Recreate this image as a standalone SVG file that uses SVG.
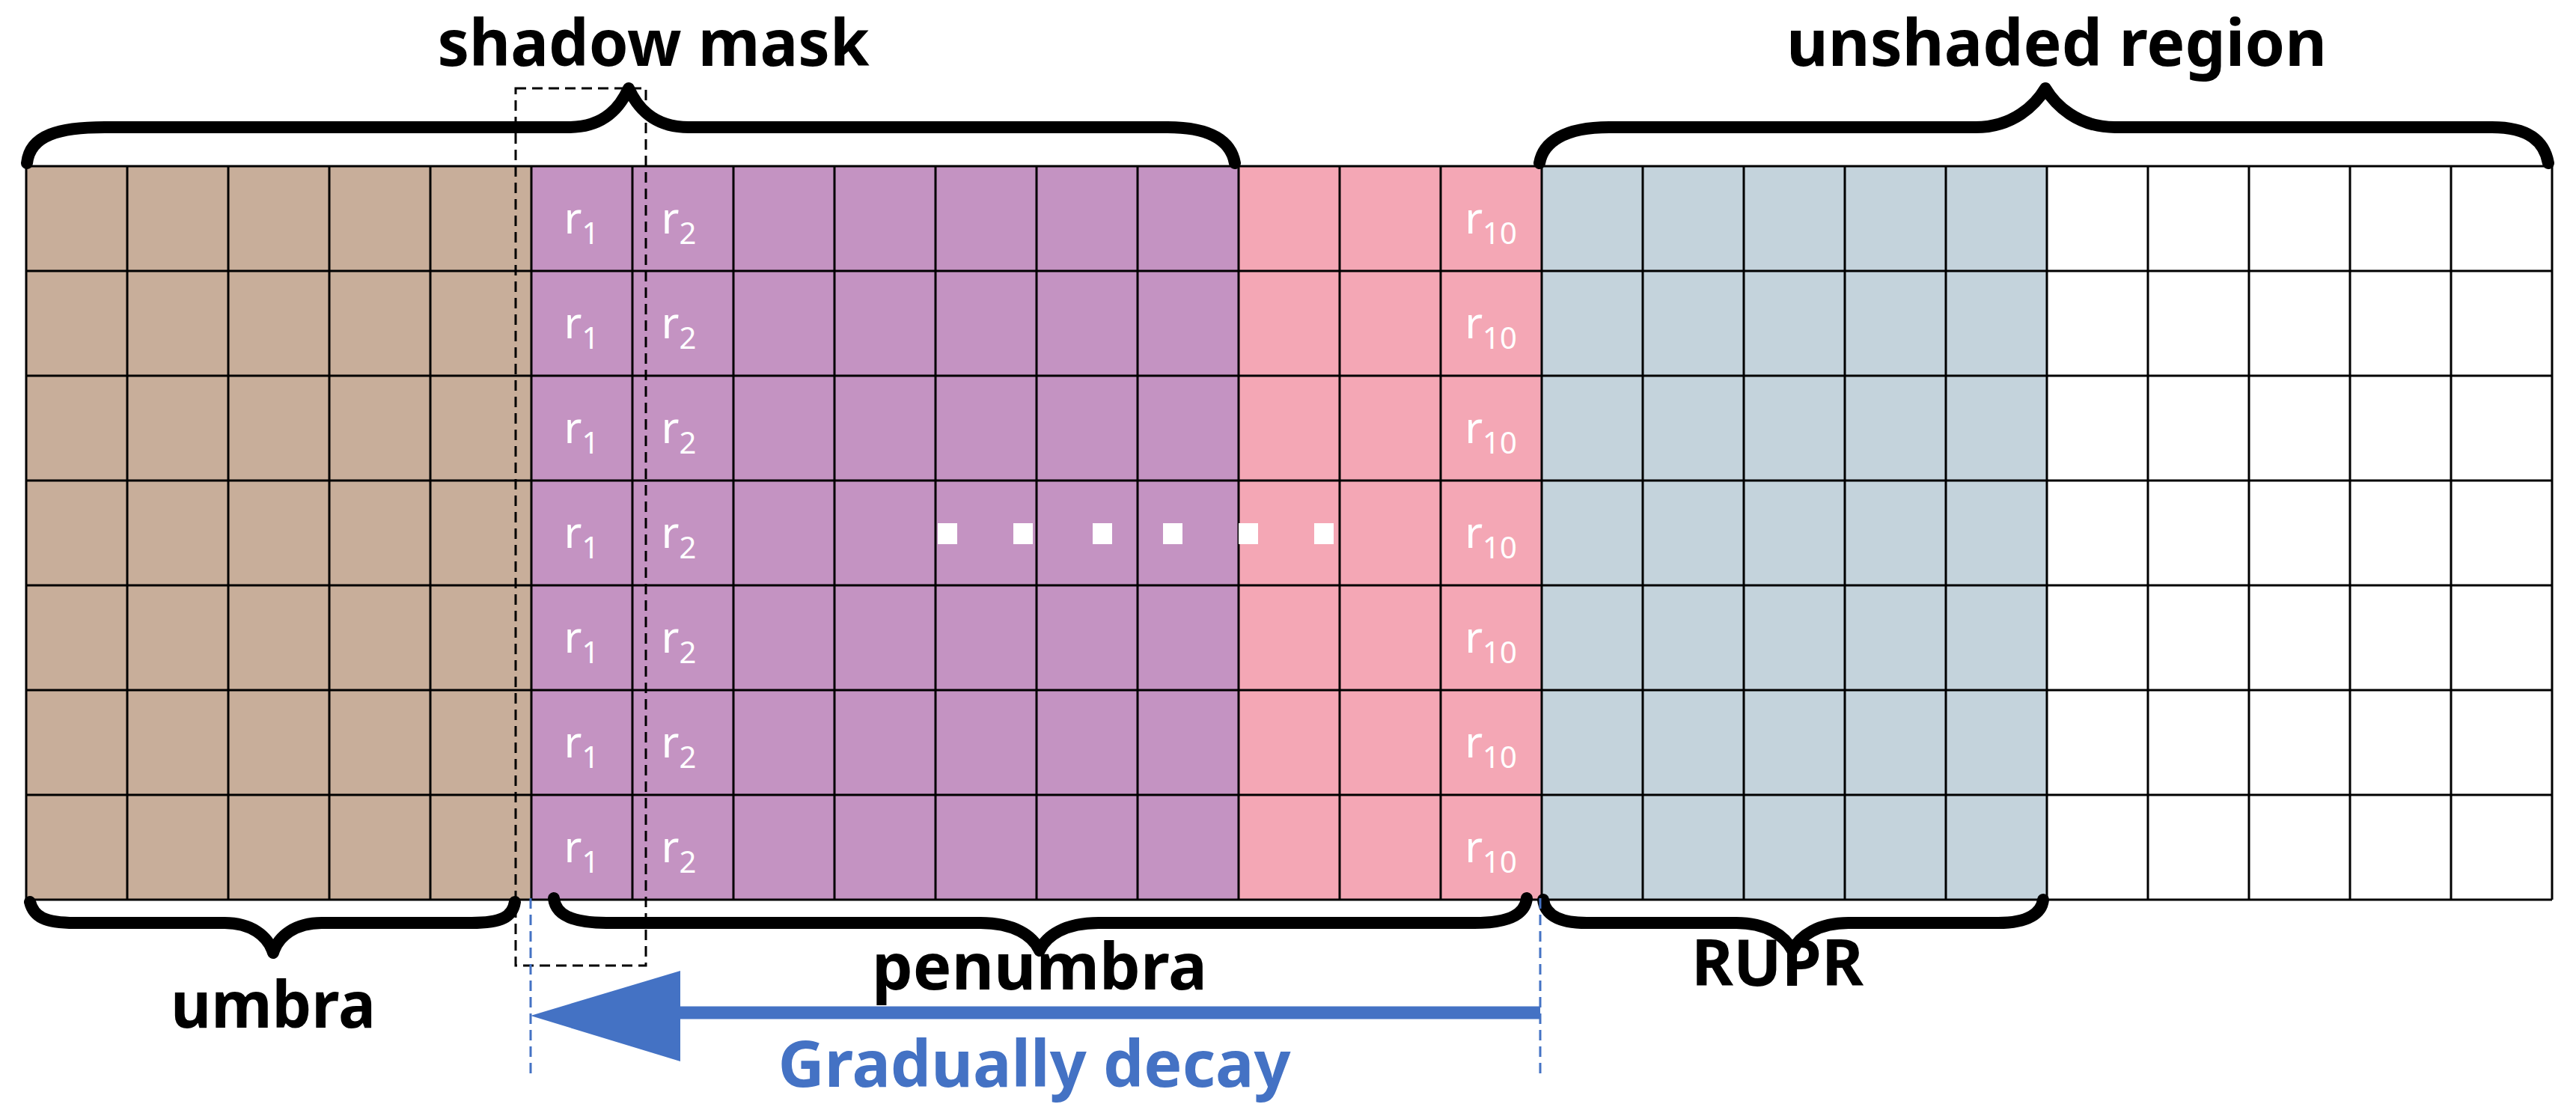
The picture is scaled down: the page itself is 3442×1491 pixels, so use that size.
<svg xmlns="http://www.w3.org/2000/svg" width="3442" height="1491" viewBox="0 0 3442 1491">
<style>
.lbl{font-family:"Noto Sans","Open Sans",sans-serif;font-weight:bold;font-size:86px;fill:#000;text-anchor:middle}
.r{font-family:"Noto Sans","Open Sans",sans-serif;font-size:58px;fill:#fff;text-anchor:middle}
.sub{font-size:40px}
.grid{stroke:#000;stroke-width:3;fill:none}
.brace{stroke:#000;stroke-width:16;fill:none;stroke-linecap:round;stroke-linejoin:round}
</style>
<rect width="3442" height="1491" fill="#fff"/>
<g id="regions">
<rect x="35" y="222" width="675" height="980" fill="#C8AE9A"/>
<rect x="710" y="222" width="945" height="980" fill="#C493C2"/>
<rect x="1655" y="222" width="405" height="980" fill="#F4A7B5"/>
<rect x="2060" y="222" width="675" height="980" fill="#C4D3DC"/>
</g>
<g id="grid" class="grid">
<path d="M35 222H3410M35 362H3410M35 502H3410M35 642H3410M35 782H3410M35 922H3410M35 1062H3410M35 1202H3410"/>
<path d="M35 222V1202M170 222V1202M305 222V1202M440 222V1202M575 222V1202M710 222V1202M845 222V1202M980 222V1202M1115 222V1202M1250 222V1202M1385 222V1202M1520 222V1202M1655 222V1202M1790 222V1202M1925 222V1202M2060 222V1202M2195 222V1202M2330 222V1202M2465 222V1202M2600 222V1202M2735 222V1202M2870 222V1202M3005 222V1202M3140 222V1202M3275 222V1202M3410 222V1202"/>
</g>
<g id="cell-labels">
<text class="r" x="777" y="312">r<tspan class="sub" dy="14">1</tspan></text>
<text class="r" x="777" y="452">r<tspan class="sub" dy="14">1</tspan></text>
<text class="r" x="777" y="592">r<tspan class="sub" dy="14">1</tspan></text>
<text class="r" x="777" y="732">r<tspan class="sub" dy="14">1</tspan></text>
<text class="r" x="777" y="872">r<tspan class="sub" dy="14">1</tspan></text>
<text class="r" x="777" y="1012">r<tspan class="sub" dy="14">1</tspan></text>
<text class="r" x="777" y="1152">r<tspan class="sub" dy="14">1</tspan></text>
<text class="r" x="907" y="312">r<tspan class="sub" dy="14">2</tspan></text>
<text class="r" x="907" y="452">r<tspan class="sub" dy="14">2</tspan></text>
<text class="r" x="907" y="592">r<tspan class="sub" dy="14">2</tspan></text>
<text class="r" x="907" y="732">r<tspan class="sub" dy="14">2</tspan></text>
<text class="r" x="907" y="872">r<tspan class="sub" dy="14">2</tspan></text>
<text class="r" x="907" y="1012">r<tspan class="sub" dy="14">2</tspan></text>
<text class="r" x="907" y="1152">r<tspan class="sub" dy="14">2</tspan></text>
<text class="r" x="1992" y="312">r<tspan class="sub" dy="14">10</tspan></text>
<text class="r" x="1992" y="452">r<tspan class="sub" dy="14">10</tspan></text>
<text class="r" x="1992" y="592">r<tspan class="sub" dy="14">10</tspan></text>
<text class="r" x="1992" y="732">r<tspan class="sub" dy="14">10</tspan></text>
<text class="r" x="1992" y="872">r<tspan class="sub" dy="14">10</tspan></text>
<text class="r" x="1992" y="1012">r<tspan class="sub" dy="14">10</tspan></text>
<text class="r" x="1992" y="1152">r<tspan class="sub" dy="14">10</tspan></text>
</g>
<g id="dots" fill="#fff">
<rect x="1253" y="699" width="26" height="28"/>
<rect x="1354" y="699" width="26" height="28"/>
<rect x="1460" y="699" width="26" height="28"/>
<rect x="1554" y="699" width="26" height="28"/>
<rect x="1655" y="699" width="26" height="28"/>
<rect x="1756" y="699" width="26" height="28"/>
</g>
<g id="connectors">
<path class="brace" d="M36 218C40 180 80 170 140 170H760C810 170 830 140 840 118C850 140 870 170 920 170H1560C1620 170 1645 190 1650 218"/>
<path class="brace" d="M2057 218C2062 190 2090 170 2150 170H2640C2690 170 2720 140 2733 118C2746 140 2776 170 2826 170H3330C3380 170 3400 190 3405 218"/>
<path class="brace" d="M40 1205C45 1225 60 1233 100 1233H300C335 1233 358 1250 365 1273C372 1250 395 1233 430 1233H630C670 1233 685 1225 688 1205"/>
<path class="brace" d="M740 1200C742 1220 760 1233 810 1233H1310C1355 1233 1380 1250 1389 1270C1398 1250 1423 1233 1468 1233H1970C2020 1233 2038 1220 2040 1200"/>
<path class="brace" d="M2062 1202C2064 1220 2080 1233 2120 1233H2320C2360 1233 2385 1250 2395 1270C2405 1250 2430 1233 2470 1233H2670C2710 1233 2728 1220 2730 1202"/>
<rect x="689" y="118" width="174" height="1172" fill="none" stroke="#000" stroke-width="3" stroke-dasharray="14 8"/>
<path d="M709 1200V1440M2058 1200V1440" stroke="#4472C4" stroke-width="3" stroke-dasharray="14 8"/>
<path d="M905 1353H2058" stroke="#4472C4" stroke-width="17"/>
<polygon points="709,1357 909,1297 909,1418" fill="#4472C4"/>
</g>
<g id="labels">
<text class="lbl" x="873" y="88" textLength="577" lengthAdjust="spacingAndGlyphs">shadow mask</text>
<text class="lbl" x="2748" y="88" textLength="722" lengthAdjust="spacingAndGlyphs">unshaded region</text>
<text class="lbl" x="365" y="1373" textLength="274" lengthAdjust="spacingAndGlyphs">umbra</text>
<text class="lbl" x="1389" y="1322" textLength="448" lengthAdjust="spacingAndGlyphs">penumbra</text>
<text class="lbl" x="2375" y="1317" textLength="230" lengthAdjust="spacingAndGlyphs">RUPR</text>
<text class="lbl" x="1382" y="1452" textLength="685" lengthAdjust="spacingAndGlyphs" style="fill:#4472C4">Gradually decay</text>
</g>
</svg>
